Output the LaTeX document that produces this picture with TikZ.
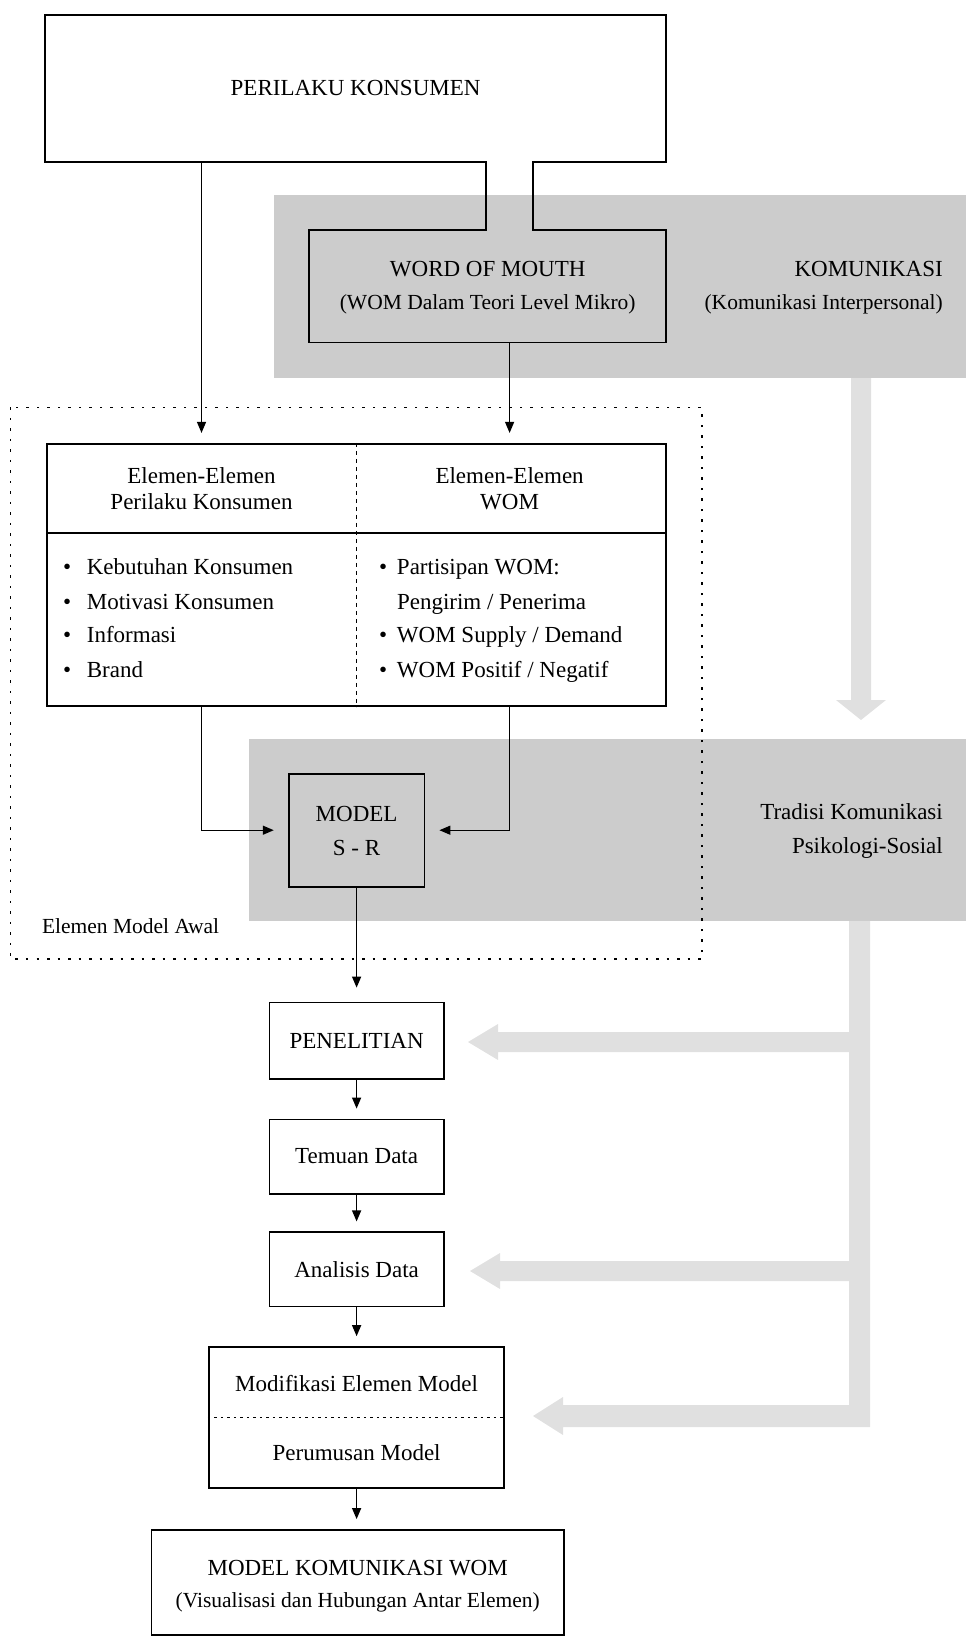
\documentclass[tikz,border=0pt]{standalone}
\usepackage{fontspec}
\setmainfont{Liberation Serif}
\usetikzlibrary{arrows.meta,calc}
\newcommand\fmain{\fontsize{23}{27}\selectfont}
\newcommand\fsub{\fontsize{21.5}{25}\selectfont}
\tikzset{
  boxframe/.style={draw, line width=1.8pt, inner sep=0pt, align=center, font=\fmain},
  plain/.style={draw=none, inner sep=0pt, font=\fmain},
  txt/.style={inner sep=0pt, anchor=base, font=\fmain},
  txtsub/.style={inner sep=0pt, anchor=base, font=\fsub},
  conn/.style={line width=1.3pt, -{Triangle[length=11pt,width=9pt]}, shorten >=10pt},
  bandfill/.style={fill=black!20},
  arrowfill/.style={fill=black!12},
  dotbox/.style={line width=1.6pt, dash pattern=on 2.5pt off 8pt},
}
\begin{document}
\begin{tikzpicture}[x=1pt,y=-1pt]
\useasboundingbox (0,0) rectangle (966,1638);

% grey bands (background)
\fill[bandfill] (273.6,195) rectangle (966,378);
\fill[bandfill] (248.5,739.4) rectangle (966,921);
% grey arrows
\fill[arrowfill] (851,378) -- (871,378) -- (871,700) -- (886,700) -- (861,720) -- (836,700) -- (851,700) -- cycle;
\fill[arrowfill] (849,921) -- (870,921) -- (870,1427) -- (563,1427) -- (563,1435) -- (533,1416) -- (563,1397) -- (563,1405)
  -- (849,1405) -- (849,1281) -- (500,1281) -- (500,1289) -- (470,1271) -- (500,1253) -- (500,1261)
  -- (849,1261) -- (849,1052) -- (498,1052) -- (498,1060) -- (468,1042) -- (498,1024) -- (498,1032)
  -- (849,1032) -- cycle;

% PERILAKU KONSUMEN + WORD OF MOUTH joined outline
\node[plain, minimum width=621.4pt, minimum height=147.4pt] (perilaku) at (355.6,88.3) {PERILAKU KONSUMEN};
\node[plain, minimum width=357.3pt, minimum height=112.8pt] (wom) at (487.65,286.1) {};
\draw[line width=1.8pt] (485.6,229.7) -- (309,229.7) -- (309,342.5) -- (666.3,342.5) -- (666.3,229.7)
  -- (532.6,229.7) -- (532.6,162) -- (666.3,162) -- (666.3,14.6) -- (44.9,14.6) -- (44.9,162)
  -- (485.6,162) -- cycle;
\node[txt] (womA) at (487.7,276) {WORD OF MOUTH};
\node[txtsub] (womB) at (487.7,309.9) {(WOM Dalam Teori Level Mikro)};
\node[txt, anchor=base east] (komA) at (943,276) {KOMUNIKASI};
\node[txtsub, anchor=base east] (komB) at (943,309.9) {(Komunikasi Interpersonal)};

% dotted frame
\draw[dotbox] (10.4,407.3) rectangle (701.8,958.7);
\node[txtsub, anchor=base west] (awal) at (41.8,933.4) {Elemen Model Awal};

% elements table
\node[boxframe, minimum width=619.3pt, minimum height=262.2pt] (elem) at (356.65,574.9) {};
\draw[line width=1.8pt] ($(elem.north west)+(0,89.8)$) -- ($(elem.north east)+(0,89.8)$);
\draw[line width=1pt, dash pattern=on 4pt off 4pt] (elem.north) -- (elem.south);
\node[txt] (hdrL1) at (201.5,483.8) {Elemen-Elemen};
\node[txt] (hdrL2) at (201.5,509.9) {Perilaku Konsumen};
\node[txt] (hdrR1) at (509.6,483.8) {Elemen-Elemen};
\node[txt] (hdrR2) at (509.6,509.9) {WOM};
\node[txt, anchor=base west] (bl1) at (63,574.6) {\makebox[23.7pt][l]{•}Kebutuhan Konsumen};
\node[txt, anchor=base west] (bl2) at (63,609.1) {\makebox[23.7pt][l]{•}Motivasi Konsumen};
\node[txt, anchor=base west] (bl3) at (63,642.6) {\makebox[23.7pt][l]{•}Informasi};
\node[txt, anchor=base west] (bl4) at (63,677) {\makebox[23.7pt][l]{•}Brand};
\node[txt, anchor=base west] (br1) at (379,574.6) {\makebox[17.8pt][l]{•}Partisipan WOM:};
\node[txt, anchor=base west] (br2) at (396.8,609.1) {Pengirim / Penerima};
\node[txt, anchor=base west] (br3) at (379,642.6) {\makebox[17.8pt][l]{•}WOM Supply / Demand};
\node[txt, anchor=base west] (br4) at (379,677) {\makebox[17.8pt][l]{•}WOM Positif / Negatif};

% MODEL S-R
\node[boxframe, minimum width=135.8pt, minimum height=112.8pt] (model) at (356.6,830.2) {};
\node[txt] (modA) at (356.6,821.1) {MODEL};
\node[txt] (modB) at (356.6,855.6) {S - R};
\node[txt, anchor=base east] (tradA) at (943,819) {Tradisi Komunikasi};
\node[txt, anchor=base east] (tradB) at (943,853.5) {Psikologi-Sosial};

% process column
\node[boxframe, minimum width=174.4pt, minimum height=76.3pt] (pen) at (356.6,1040.65) {PENELITIAN};
\node[boxframe, minimum width=174.4pt, minimum height=74.1pt] (tem) at (356.6,1156.55) {Temuan Data};
\node[boxframe, minimum width=174.4pt, minimum height=74.1pt] (ana) at (356.6,1269.35) {Analisis Data};
\node[boxframe, minimum width=295.5pt, minimum height=141pt] (mod) at (356.6,1417.6) {};
\draw[line width=1.3pt, dash pattern=on 2.5pt off 4pt] (mod.west) -- (mod.east);
\node[txt] (modiA) at (356.6,1391.3) {Modifikasi Elemen Model};
\node[txt] (modiB) at (356.6,1460.2) {Perumusan Model};
\node[boxframe, minimum width=412.6pt, minimum height=105pt] (fin) at (357.7,1582.5) {};
\node[txt] (finA) at (357.7,1575.1) {MODEL KOMUNIKASI WOM};
\node[txtsub] (finB) at (357.7,1607.1) {(Visualisasi dan Hubungan Antar Elemen)};

% connectors
\draw[conn] (perilaku.south -| hdrL1) -- (hdrL1 |- elem.north);
\draw[conn] (wom.south -| hdrR1) -- (hdrR1 |- elem.north);
\draw[conn, shorten >=14pt] (elem.south -| hdrL1) |- (model.west);
\draw[conn, shorten >=14pt] (elem.south -| hdrR1) |- (model.east);
\draw[conn, shorten >=14pt] (model.south) -- (model.south |- pen.north);
\draw[conn] (pen.south) -- (tem.north);
\draw[conn] (tem.south) -- (ana.north);
\draw[conn] (ana.south) -- (mod.north);
\draw[conn] (mod.south) -- (mod.south |- fin.north);
\end{tikzpicture}
\end{document}
